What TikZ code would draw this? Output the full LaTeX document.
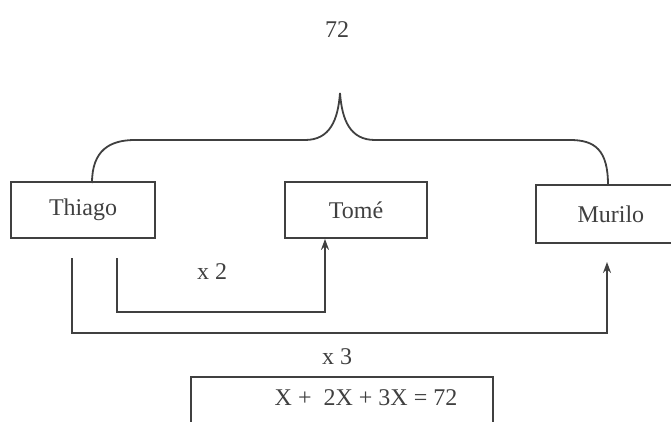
\documentclass[tikz,border=0pt]{standalone}
\usepackage{fontspec}
\setmainfont{Liberation Serif}
\usetikzlibrary{arrows.meta}
\begin{document}
\begin{tikzpicture}[x=1pt,y=-1pt,
  ink/.style={draw=black!75, line width=1.8pt},
  namebox/.style={ink, rectangle, minimum width=144pt, minimum height=56pt, font=\fontsize{24}{28}\selectfont, text=black!75, inner sep=0pt},
  lbl/.style={font=\fontsize{24}{28}\selectfont, text=black!75, inner sep=0pt},
  arr/.style={ink, -{Stealth[length=11pt,width=8pt]}}]
\useasboundingbox (0,0) rectangle (671,422);
\node[lbl] (total) at (337,30) {72};
\node[namebox] (thiago) at (83,210) {Thiago};
\node[namebox, minimum width=142pt] (tome) at (356,210) {Tomé};
\node[namebox, minimum width=150pt, minimum height=58pt, anchor=west] (murilo) at (535,214) {Murilo};
\coordinate (tip) at (340,93);
\coordinate (lefttop) at (92,183);
\coordinate (righttop) at (608,185);
\draw[ink] (lefttop) .. controls (92,150) and (110,140) .. (135,140) -- (305,140)
  .. controls (330,140) and (338,120) .. (tip)
  .. controls (342,120) and (350,140) .. (375,140) -- (570,140)
  .. controls (595,140) and (608,150) .. (righttop);
\coordinate (s2) at (117,258);
\coordinate (s3) at (72,258);
\coordinate (m3) at (607,262);
\draw[arr] (s2) |- (325,312) -- (tome.south -| 325,0);
\draw[arr] (s3) |- (607,333) -- (m3);
\node[lbl] (x2) at (212,272) {x 2};
\node[lbl] (x3) at (337,357) {x 3};
\node[ink, rectangle, minimum width=302pt, minimum height=60pt, anchor=north west, inner sep=0pt] (eq) at (190,376) {};
\node[lbl] (eqtext) at (366,398) {X +\ \ 2X + 3X = 72};
\end{tikzpicture}
\end{document}
